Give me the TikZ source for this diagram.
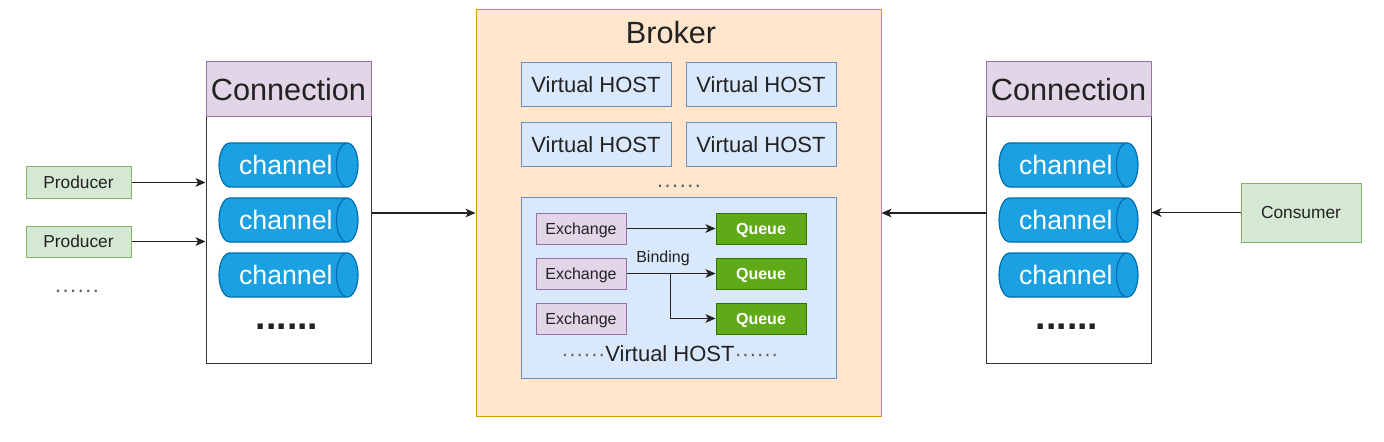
\documentclass[tikz,border=0pt]{standalone}
\usepackage{fontspec}
\setmainfont{Liberation Sans}
\usetikzlibrary{arrows.meta,shapes.geometric}

\definecolor{conFill}{HTML}{E1D5E7}
\definecolor{conDraw}{HTML}{9673A6}
\definecolor{chanFill}{HTML}{1BA1E2}
\definecolor{chanDraw}{HTML}{006EAF}
\definecolor{brokerFill}{HTML}{FFE6CC}
\definecolor{brokerDraw}{HTML}{D79B00}
\definecolor{hostFill}{HTML}{DAE8FC}
\definecolor{hostDraw}{HTML}{6C8EBF}
\definecolor{queueFill}{HTML}{60A917}
\definecolor{queueDraw}{HTML}{2D7600}
\definecolor{prodFill}{HTML}{D5E8D4}
\definecolor{prodDraw}{HTML}{82B366}
\definecolor{txt}{HTML}{222222}

\begin{document}
\begin{tikzpicture}[x=0.75pt, y=-0.75pt,
    box/.style={draw, line width=0.75pt, inner sep=0pt, align=center, text=txt},
    conhead/.style={box, draw=conDraw, fill=conFill, minimum width=123.75pt, minimum height=41.25pt, font=\fontsize{23}{27}\selectfont},
    conbody/.style={box, draw=black!80, fill=white, minimum width=123.75pt, minimum height=184.5pt},
    channel/.style={cylinder, anchor=shape center, shape aspect=1.1, draw=chanDraw, line width=0.9pt, cylinder uses custom fill, cylinder body fill=chanFill, cylinder end fill=chanFill, minimum width=33pt, minimum height=104.25pt, inner sep=0pt, text=white, font=\fontsize{20}{24}\selectfont, execute at begin node={\hspace{4.5pt}}},
    bigdots/.style={font=\fontsize{28}{30}\selectfont\bfseries, text=txt, inner sep=0pt},
    smalldots/.style={font=\fontsize{17}{20}\selectfont, text=txt!70, inner sep=0pt},
    broker/.style={box, draw=brokerDraw, fill=brokerFill, minimum width=303.75pt, minimum height=304.5pt},
    vhost/.style={box, draw=hostDraw, fill=hostFill, minimum width=112.5pt, minimum height=33pt, font=\fontsize{16.5}{20}\selectfont},
    exchange/.style={box, draw=conDraw, fill=conFill, minimum width=67.5pt, minimum height=23.25pt, text depth=0pt, font=\fontsize{12}{14}\selectfont},
    queue/.style={box, draw=queueDraw, fill=queueFill, minimum width=67.5pt, minimum height=23.25pt, text depth=0pt, text=white, font=\fontsize{12}{14}\selectfont\bfseries},
    client/.style={box, draw=prodDraw, fill=prodFill, font=\fontsize{13}{16}\selectfont},
    flow/.style={-{Stealth[length=7.5pt,width=6.5pt,inset=2pt]}, line width=0.9pt, draw=txt}
  ]
    \useasboundingbox (0,0) rectangle (1384,442);

    %Producer
    \node[client, minimum width=78.75pt, minimum height=23.25pt] (prod1) at (78.5,182.5) {Producer};
    \node[client, minimum width=78.75pt, minimum height=23.25pt] (prod2) at (78.5,241.5) {Producer};
    \node[smalldots] (proddots) at (77,294) {······};

    %linke Connection
    \node[conbody] (lbody) at (288.5,240) {};
    \node[conhead] (lhead) at (288.5,89.5) {Connection};
    \node[channel] (lch1) at (288.5,165) {channel};
    \node[channel] (lch2) at (288.5,220) {channel};
    \node[channel] (lch3) at (288.5,275) {channel};
    \node[bigdots] (ldots) at (287,327) {......};

    %Broker
    \node[broker] (broker) at (678.5,213) {};
    \node[text=txt, font=\fontsize{23}{27}\selectfont, inner sep=0pt] (brokerlabel) at (671,33) {Broker};
    \node[vhost] (vh1) at (596,85) {Virtual HOST};
    \node[vhost] (vh2) at (761,85) {Virtual HOST};
    \node[vhost] (vh3) at (596,145) {Virtual HOST};
    \node[vhost] (vh4) at (761,145) {Virtual HOST};
    \node[smalldots] (vhdots) at (679,189) {······};

    %Virtual HOST innen
    \node[vhost, minimum width=236.25pt, minimum height=135.75pt] (vhbig) at (678.5,287.5) {};
    \node[text=txt, font=\fontsize{16.5}{20}\selectfont, inner sep=0pt] (vhlabel) at (670,354) {{\color{txt!70}······}Virtual HOST{\color{txt!70}······}};
    \node[exchange] (ex1) at (581,228.5) {Exchange};
    \node[exchange] (ex2) at (581,273.5) {Exchange};
    \node[exchange] (ex3) at (581,318.5) {Exchange};
    \node[queue] (q1) at (761,228.5) {Queue};
    \node[queue] (q2) at (761,273.5) {Queue};
    \node[queue] (q3) at (761,318.5) {Queue};
    \node[text=txt, font=\fontsize{12}{14}\selectfont, inner sep=0pt] (binding) at (663,258) {Binding};
    \coordinate (split) at (670,273.5);
    \draw[flow, line width=0.75pt] (ex1) -- (q1);
    \draw[flow, line width=0.75pt] (ex2) -- (q2);
    \draw[flow, line width=0.75pt] (split) |- (q3);

    %rechte Connection
    \node[conbody] (rbody) at (1068.5,240) {};
    \node[conhead] (rhead) at (1068.5,89.5) {Connection};
    \node[channel] (rch1) at (1068.5,165) {channel};
    \node[channel] (rch2) at (1068.5,220) {channel};
    \node[channel] (rch3) at (1068.5,275) {channel};
    \node[bigdots] (rdots) at (1067,327) {......};

    %Consumer
    \node[client, minimum width=90pt, minimum height=44.25pt] (cons) at (1301,212.5) {Consumer};

    %Pfeile
    \draw[flow] (prod1) -- (prod1 -| lbody.west);
    \draw[flow] (prod2) -- (prod2 -| lbody.west);
    \draw[flow] (lbody.east |- broker) -- (broker.west);
    \draw[flow] (rbody.west |- broker) -- (broker.east);
    \draw[flow] (cons) -- (cons -| rbody.east);

\end{tikzpicture}
\end{document}
